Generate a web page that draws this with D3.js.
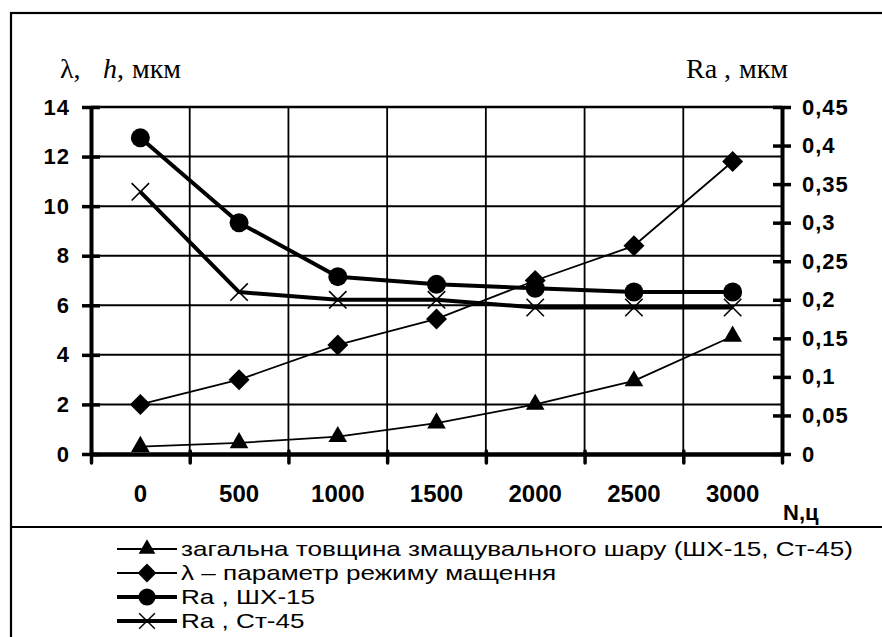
<!DOCTYPE html>
<html>
<head>
<meta charset="utf-8">
<script src="https://cdn.jsdelivr.net/npm/d3@7"></script>
<style>
  body { margin: 0; background: #fff; }
  svg { display: block; }
</style>
</head>
<body>
<div id="chart"></div>
<script>
// Données
const cycles = ["0", "500", "1000", "1500", "2000", "2500", "3000"];
const thickness = [0.3, 0.45, 0.7, 1.25, 2.0, 2.95, 4.75];   // h, мкм (left axis)
const lambda = [2.0, 3.0, 4.4, 5.45, 7.0, 8.4, 11.8];         // λ (left axis)
const raShx = [0.41, 0.30, 0.23, 0.22, 0.215, 0.21, 0.21];     // Ra ШХ-15 (right axis)
const raSt = [0.34, 0.21, 0.20, 0.20, 0.19, 0.19, 0.19];       // Ra Ст-45 (right axis)
const leftTicks = [0, 2, 4, 6, 8, 10, 12, 14];
const rightTicks = [0, 0.05, 0.1, 0.15, 0.2, 0.25, 0.3, 0.35, 0.4, 0.45];
const rightTickLabels = ["0", "0,05", "0,1", "0,15", "0,2", "0,25", "0,3", "0,35", "0,4", "0,45"];
const legendLabels = [
  "загальна товщина змащувального шару (ШХ-15, Ст-45)",
  "λ – параметр режиму мащення",
  "Ra , ШХ-15",
  "Ra , Ст-45"
];

// Dimensions
const W = 882, H = 637;
const plot = { left: 91, right: 782, top: 107, bottom: 454 };
const tickFont = "Liberation Sans, Arial, sans-serif";
const serif = "Liberation Serif, Times New Roman, serif";

const svg = d3.select("#chart").append("svg")
  .attr("width", W).attr("height", H);
svg.append("rect").attr("width", W).attr("height", H).attr("fill", "#fff");

// Cadre extérieur + séparateur de légende
svg.append("rect")
  .attr("x", 11).attr("y", 13).attr("width", W).attr("height", H)
  .attr("fill", "none").attr("stroke", "#000").attr("stroke-width", 2.2);
svg.append("line")
  .attr("x1", 11).attr("x2", W).attr("y1", 527).attr("y2", 527)
  .attr("stroke", "#000").attr("stroke-width", 2.2);

// Échelles
const x = d3.scaleBand().domain(cycles).range([plot.left, plot.right]);
const xb = d3.scaleLinear().domain([0, cycles.length]).range([plot.left, plot.right]);
const cx = (i) => x(cycles[i]) + x.bandwidth() / 2;
const yL = d3.scaleLinear().domain([0, 14]).range([plot.bottom, plot.top]);
const yR = d3.scaleLinear().domain([0, 0.45]).range([plot.bottom, plot.top]);

// Grille
svg.append("g").selectAll("line").data(leftTicks.slice(1)).join("line")
  .attr("x1", plot.left).attr("x2", plot.right)
  .attr("y1", d => yL(d)).attr("y2", d => yL(d))
  .attr("stroke", "#000").attr("stroke-width", d => d === 14 ? 2.5 : 2);
svg.append("g").selectAll("line").data(cycles.slice(1)).join("line")
  .attr("x1", d => x(d)).attr("x2", d => x(d))
  .attr("y1", plot.top).attr("y2", plot.bottom)
  .attr("stroke", "#000").attr("stroke-width", 1.8);

// Axe gauche
const gl = svg.append("g")
  .attr("transform", `translate(${plot.left},0)`)
  .call(d3.axisLeft(yL).tickValues(leftTicks).tickSize(9).tickSizeOuter(0).tickPadding(12));
gl.select(".domain").attr("stroke-width", 4);
gl.selectAll(".tick line").attr("x1", 9).attr("stroke-width", 3.5);
gl.selectAll(".tick text")
  .style("font-family", tickFont).style("font-weight", "bold").style("font-size", "22px")
  .style("letter-spacing", "1px");

// Axe droit
const gr = svg.append("g")
  .attr("transform", `translate(${plot.right},0)`)
  .call(d3.axisRight(yR).tickValues(rightTicks).tickFormat((d, i) => rightTickLabels[i])
    .tickSize(9).tickSizeOuter(0).tickPadding(11));
gr.select(".domain").attr("stroke-width", 4);
gr.selectAll(".tick line").attr("x1", -9).attr("stroke-width", 3.5);
gr.selectAll(".tick text")
  .style("font-family", tickFont).style("font-weight", "bold").style("font-size", "22px")
  .style("letter-spacing", "1px");

// Axe bas : étiquettes au centre, graduations entre catégories
const gb = svg.append("g")
  .attr("transform", `translate(0,${plot.bottom})`)
  .call(d3.axisBottom(x).tickSize(0).tickSizeOuter(0));
gb.select(".domain").attr("stroke-width", 4.5);
gb.selectAll(".tick text")
  .attr("y", 48).attr("dy", 0)
  .style("font-family", tickFont).style("font-weight", "bold").style("font-size", "24px");
const gbt = svg.append("g")
  .attr("transform", `translate(0,${plot.bottom})`)
  .call(d3.axisBottom(xb).tickValues(d3.range(cycles.length + 1)).tickFormat("").tickSize(9).tickSizeOuter(0));
gbt.select(".domain").remove();
gbt.selectAll(".tick line").attr("y1", -3).attr("stroke-width", 3.5).attr("stroke-linecap", "round");

svg.append("text")
  .attr("x", 783).attr("y", 520)
  .style("font-family", tickFont).style("font-weight", "bold").style("font-size", "22px")
  .text("N,ц");

// Titres d'axes
const tl = svg.append("text")
  .attr("y", 78)
  .style("font-family", serif).style("font-size", "28px");
tl.append("tspan").attr("x", 60).text("λ,");
tl.append("tspan").attr("x", 103).style("font-style", "italic").text("h");
tl.append("tspan").text(",");
tl.append("tspan").attr("x", 132).text("мкм");
const tr = svg.append("text")
  .attr("y", 78)
  .style("font-family", serif).style("font-size", "28px");
tr.append("tspan").attr("x", 686).text("Ra ,");
tr.append("tspan").attr("x", 739).text("мкм");

// Séries
const series = [
  { values: thickness, y: yL, width: 1.8, marker: "triangle" },
  { values: lambda, y: yL, width: 1.8, marker: "diamond" },
  { values: raShx, y: yR, width: 4, marker: "circle" },
  { values: raSt, y: yR, width: 4, marker: "cross" }
];

function drawMarker(g, type) {
  if (type === "circle") {
    g.append("circle").attr("r", 9.5).attr("fill", "#000");
  } else if (type === "triangle") {
    g.append("path").attr("d", d3.symbol(d3.symbolTriangle, 150)()).attr("fill", "#000");
  } else if (type === "diamond") {
    g.append("path").attr("d", d3.symbol(d3.symbolSquare, 220)())
      .attr("transform", "rotate(45)").attr("fill", "#000");
  } else {
    g.append("path").attr("d", d3.symbol(d3.symbolTimes, 200)())
      .attr("fill", "none").attr("stroke", "#000").attr("stroke-width", 1.6);
  }
}

series.forEach(s => {
  const line = d3.line().x((d, i) => cx(i)).y(d => s.y(d));
  svg.append("path")
    .datum(s.values)
    .attr("d", line)
    .attr("fill", "none").attr("stroke", "#000")
    .attr("stroke-width", s.width).attr("stroke-linejoin", "round");
  s.values.forEach((v, i) => {
    const g = svg.append("g").attr("transform", `translate(${cx(i)},${s.y(v)})`);
    drawMarker(g, s.marker);
  });
});

// Légende
const legendFont = "Liberation Sans Narrow, Liberation Sans, Arial, sans-serif";
const rows = [];
series.forEach((s, i) => {
  const y = 556 + i * 24;
  svg.append("line")
    .attr("x1", 117).attr("x2", 177).attr("y1", y - 7).attr("y2", y - 7)
    .attr("stroke", "#000").attr("stroke-width", s.width);
  const g = svg.append("g").attr("transform", `translate(147,${y - 7}) scale(0.9)`);
  drawMarker(g, s.marker);
  rows.push(svg.append("text")
    .attr("x", 181).attr("y", y)
    .style("font-family", legendFont).style("font-size", "21px")
    .text(legendLabels[i]));
});
// ajuster la largeur du texte sur la première ligne
const k = 672 / rows[0].node().getComputedTextLength();
rows.forEach(t => {
  t.attr("textLength", t.node().getComputedTextLength() * k).attr("lengthAdjust", "spacingAndGlyphs");
});
</script>
</body>
</html>
